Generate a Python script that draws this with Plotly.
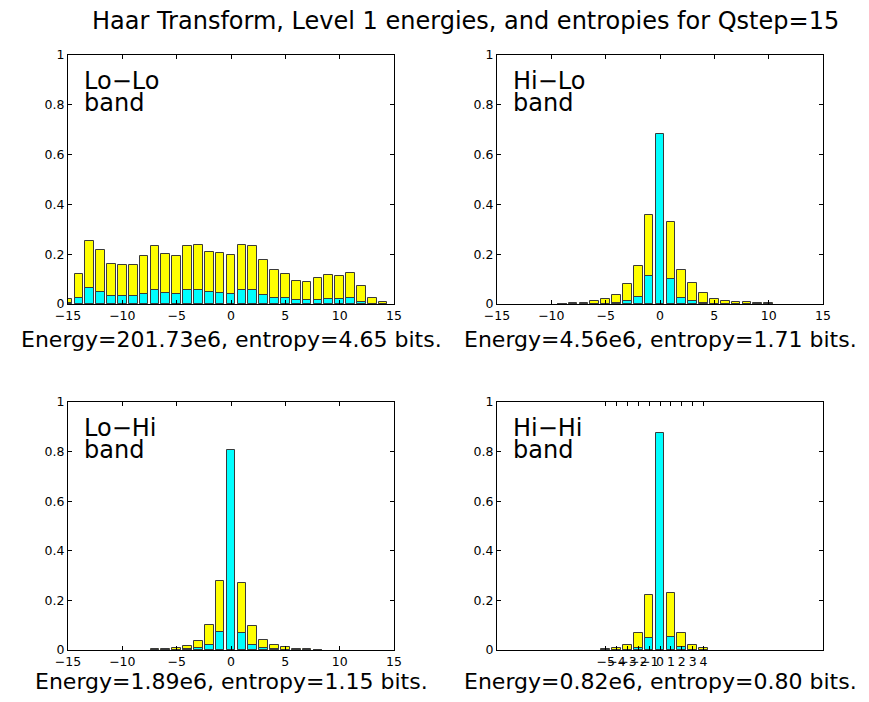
import plotly.graph_objects as go
from plotly.subplots import make_subplots

# ---- data ----
lolo_x = list(range(-15, 15))
lolo_yellow = [0.019, 0.12, 0.253, 0.216, 0.159, 0.157, 0.157, 0.191, 0.234, 0.202,
               0.191, 0.232, 0.237, 0.209, 0.205, 0.195, 0.237, 0.234, 0.177, 0.138,
               0.119, 0.092, 0.088, 0.106, 0.115, 0.112, 0.124, 0.071, 0.023, 0.007]
lolo_cyan = [0.004, 0.023, 0.064, 0.047, 0.031, 0.031, 0.031, 0.039, 0.058, 0.044,
             0.040, 0.055, 0.056, 0.047, 0.044, 0.041, 0.056, 0.056, 0.035, 0.025,
             0.024, 0.015, 0.015, 0.017, 0.019, 0.019, 0.024, 0.008, 0.001, 0.0]

hilo_x = list(range(-9, 11))
hilo_yellow = [0.002, 0.003, 0.006, 0.012, 0.022, 0.036, 0.080, 0.154, 0.356, 0.0,
               0.328, 0.137, 0.086, 0.044, 0.019, 0.012, 0.009, 0.007, 0.004, 0.003]
hilo_cyan = [0.0, 0.0, 0.0, 0.001, 0.002, 0.003, 0.011, 0.028, 0.112, 0.681,
             0.099, 0.025, 0.011, 0.005, 0.002, 0.001, 0.0, 0.0, 0.0, 0.0]

lohi_x = list(range(-7, 9))
lohi_yellow = [0.003, 0.005, 0.008, 0.017, 0.038, 0.101, 0.280, 0.0,
               0.269, 0.098, 0.040, 0.022, 0.011, 0.004, 0.003, 0.002]
lohi_cyan = [0.0, 0.0, 0.001, 0.003, 0.007, 0.019, 0.071, 0.805,
             0.069, 0.019, 0.007, 0.003, 0.001, 0.0, 0.0, 0.0]

hihi_x = list(range(-5, 5))
hihi_yellow = [0.004, 0.007, 0.019, 0.067, 0.220, 0.0, 0.228, 0.070, 0.019, 0.008]
hihi_cyan = [0.0, 0.0, 0.002, 0.008, 0.050, 0.874, 0.052, 0.011, 0.002, 0.0]

band_names = ["Lo\u2212Lo", "Hi\u2212Lo", "Lo\u2212Hi", "Hi\u2212Hi"]
captions = ["Energy=201.73e6, entropy=4.65 bits.",
            "Energy=4.56e6, entropy=1.71 bits.",
            "Energy=1.89e6, entropy=1.15 bits.",
            "Energy=0.82e6, entropy=0.80 bits."]
title_text = "Haar Transform, Level 1 energies, and entropies for Qstep=15"

std_xticks = [-15, -10, -5, 0, 5, 10, 15]
hihi_xticks = hihi_x
yticks = [0, 0.2, 0.4, 0.6, 0.8, 1]
ytick_text = ["0", "0.2", "0.4", "0.6", "0.8", "1"]

# ---- figure ----
# the page body adds an 8px margin, so the figure is 16px smaller and
# every reference pixel position is shifted by 8px
OFF = 8
W, H = 869 - 2 * OFF, 702 - 2 * OFF
FONT = "DejaVu Sans, Liberation Sans, Arial, sans-serif"
fig = make_subplots(rows=2, cols=2)

panels = [
    (1, 1, lolo_x, lolo_yellow, lolo_cyan),
    (1, 2, hilo_x, hilo_yellow, hilo_cyan),
    (2, 1, lohi_x, lohi_yellow, lohi_cyan),
    (2, 2, hihi_x, hihi_yellow, hihi_cyan),
]
edge = dict(color="#3a3a3a", width=1)
for r, c, xs, yel, cya in panels:
    fig.add_trace(go.Bar(x=xs, y=yel, width=0.8, marker=dict(color="#FFFF00", line=edge),
                         showlegend=False), row=r, col=c)
    fig.add_trace(go.Bar(x=xs, y=cya, width=0.8, marker=dict(color="#00FFFF", line=edge),
                         showlegend=False), row=r, col=c)

# pixel geometry (reference window pixels)
cols_px = [(68, 394), (497, 823)]
rows_px = [(55, 304), (402, 650)]
caption_y = [339, 681]

def px(xp):
    return (xp - OFF) / W

def py(yp):
    return 1 - (yp - OFF) / H

def fmt(v):
    return ("\u2212" + str(-v)) if v < 0 else str(v)

axis_common = dict(showline=True, linecolor="black", linewidth=1, mirror="ticks",
                   ticks="inside", ticklen=4, tickcolor="black", showgrid=False,
                   zeroline=False, automargin=False, tickangle=0,
                   tickfont=dict(family=FONT, size=12.5, color="black"))

for i, (r, c) in enumerate([(1, 1), (1, 2), (2, 1), (2, 2)]):
    x0, x1 = cols_px[c - 1]
    y0, y1 = rows_px[r - 1]
    tv = hihi_xticks if i == 3 else std_xticks
    fig.update_xaxes(domain=[px(x0), px(x1)], range=[-15, 15], tickmode="array", tickvals=tv,
                     ticktext=[fmt(v) for v in tv], **axis_common, row=r, col=c)
    fig.update_yaxes(domain=[py(y1), py(y0)], range=[0, 1], tickmode="array", tickvals=yticks,
                     ticktext=ytick_text, **axis_common, row=r, col=c)

annotations = []
for i, (r, c) in enumerate([(1, 1), (1, 2), (2, 1), (2, 2)]):
    x0, x1 = cols_px[c - 1]
    y0, y1 = rows_px[r - 1]
    annotations.append(dict(text=band_names[i], xref="paper", yref="paper",
                            x=px(x0 + 14), y=py(y0 + 26), xanchor="left", yanchor="middle",
                            showarrow=False, font=dict(family=FONT, size=24, color="black")))
    annotations.append(dict(text="band", xref="paper", yref="paper",
                            x=px(x0 + 14), y=py(y0 + 48), xanchor="left", yanchor="middle",
                            showarrow=False, font=dict(family=FONT, size=24, color="black")))
    annotations.append(dict(text=captions[i], xref="paper", yref="paper",
                            x=px((x0 + x1) / 2), y=py(caption_y[r - 1]), xanchor="center",
                            yanchor="middle", showarrow=False,
                            font=dict(family=FONT, size=22, color="black")))
annotations.append(dict(text=title_text, xref="paper", yref="paper", x=px(465), y=py(21),
                        xanchor="center", yanchor="middle", showarrow=False,
                        font=dict(family=FONT, size=24, color="black")))

fig.update_layout(width=W, height=H, margin=dict(l=0, r=0, t=0, b=0),
                  barmode="overlay", bargap=0, plot_bgcolor="white", paper_bgcolor="white",
                  annotations=annotations, font=dict(family=FONT))

fig.write_html("out.html")
